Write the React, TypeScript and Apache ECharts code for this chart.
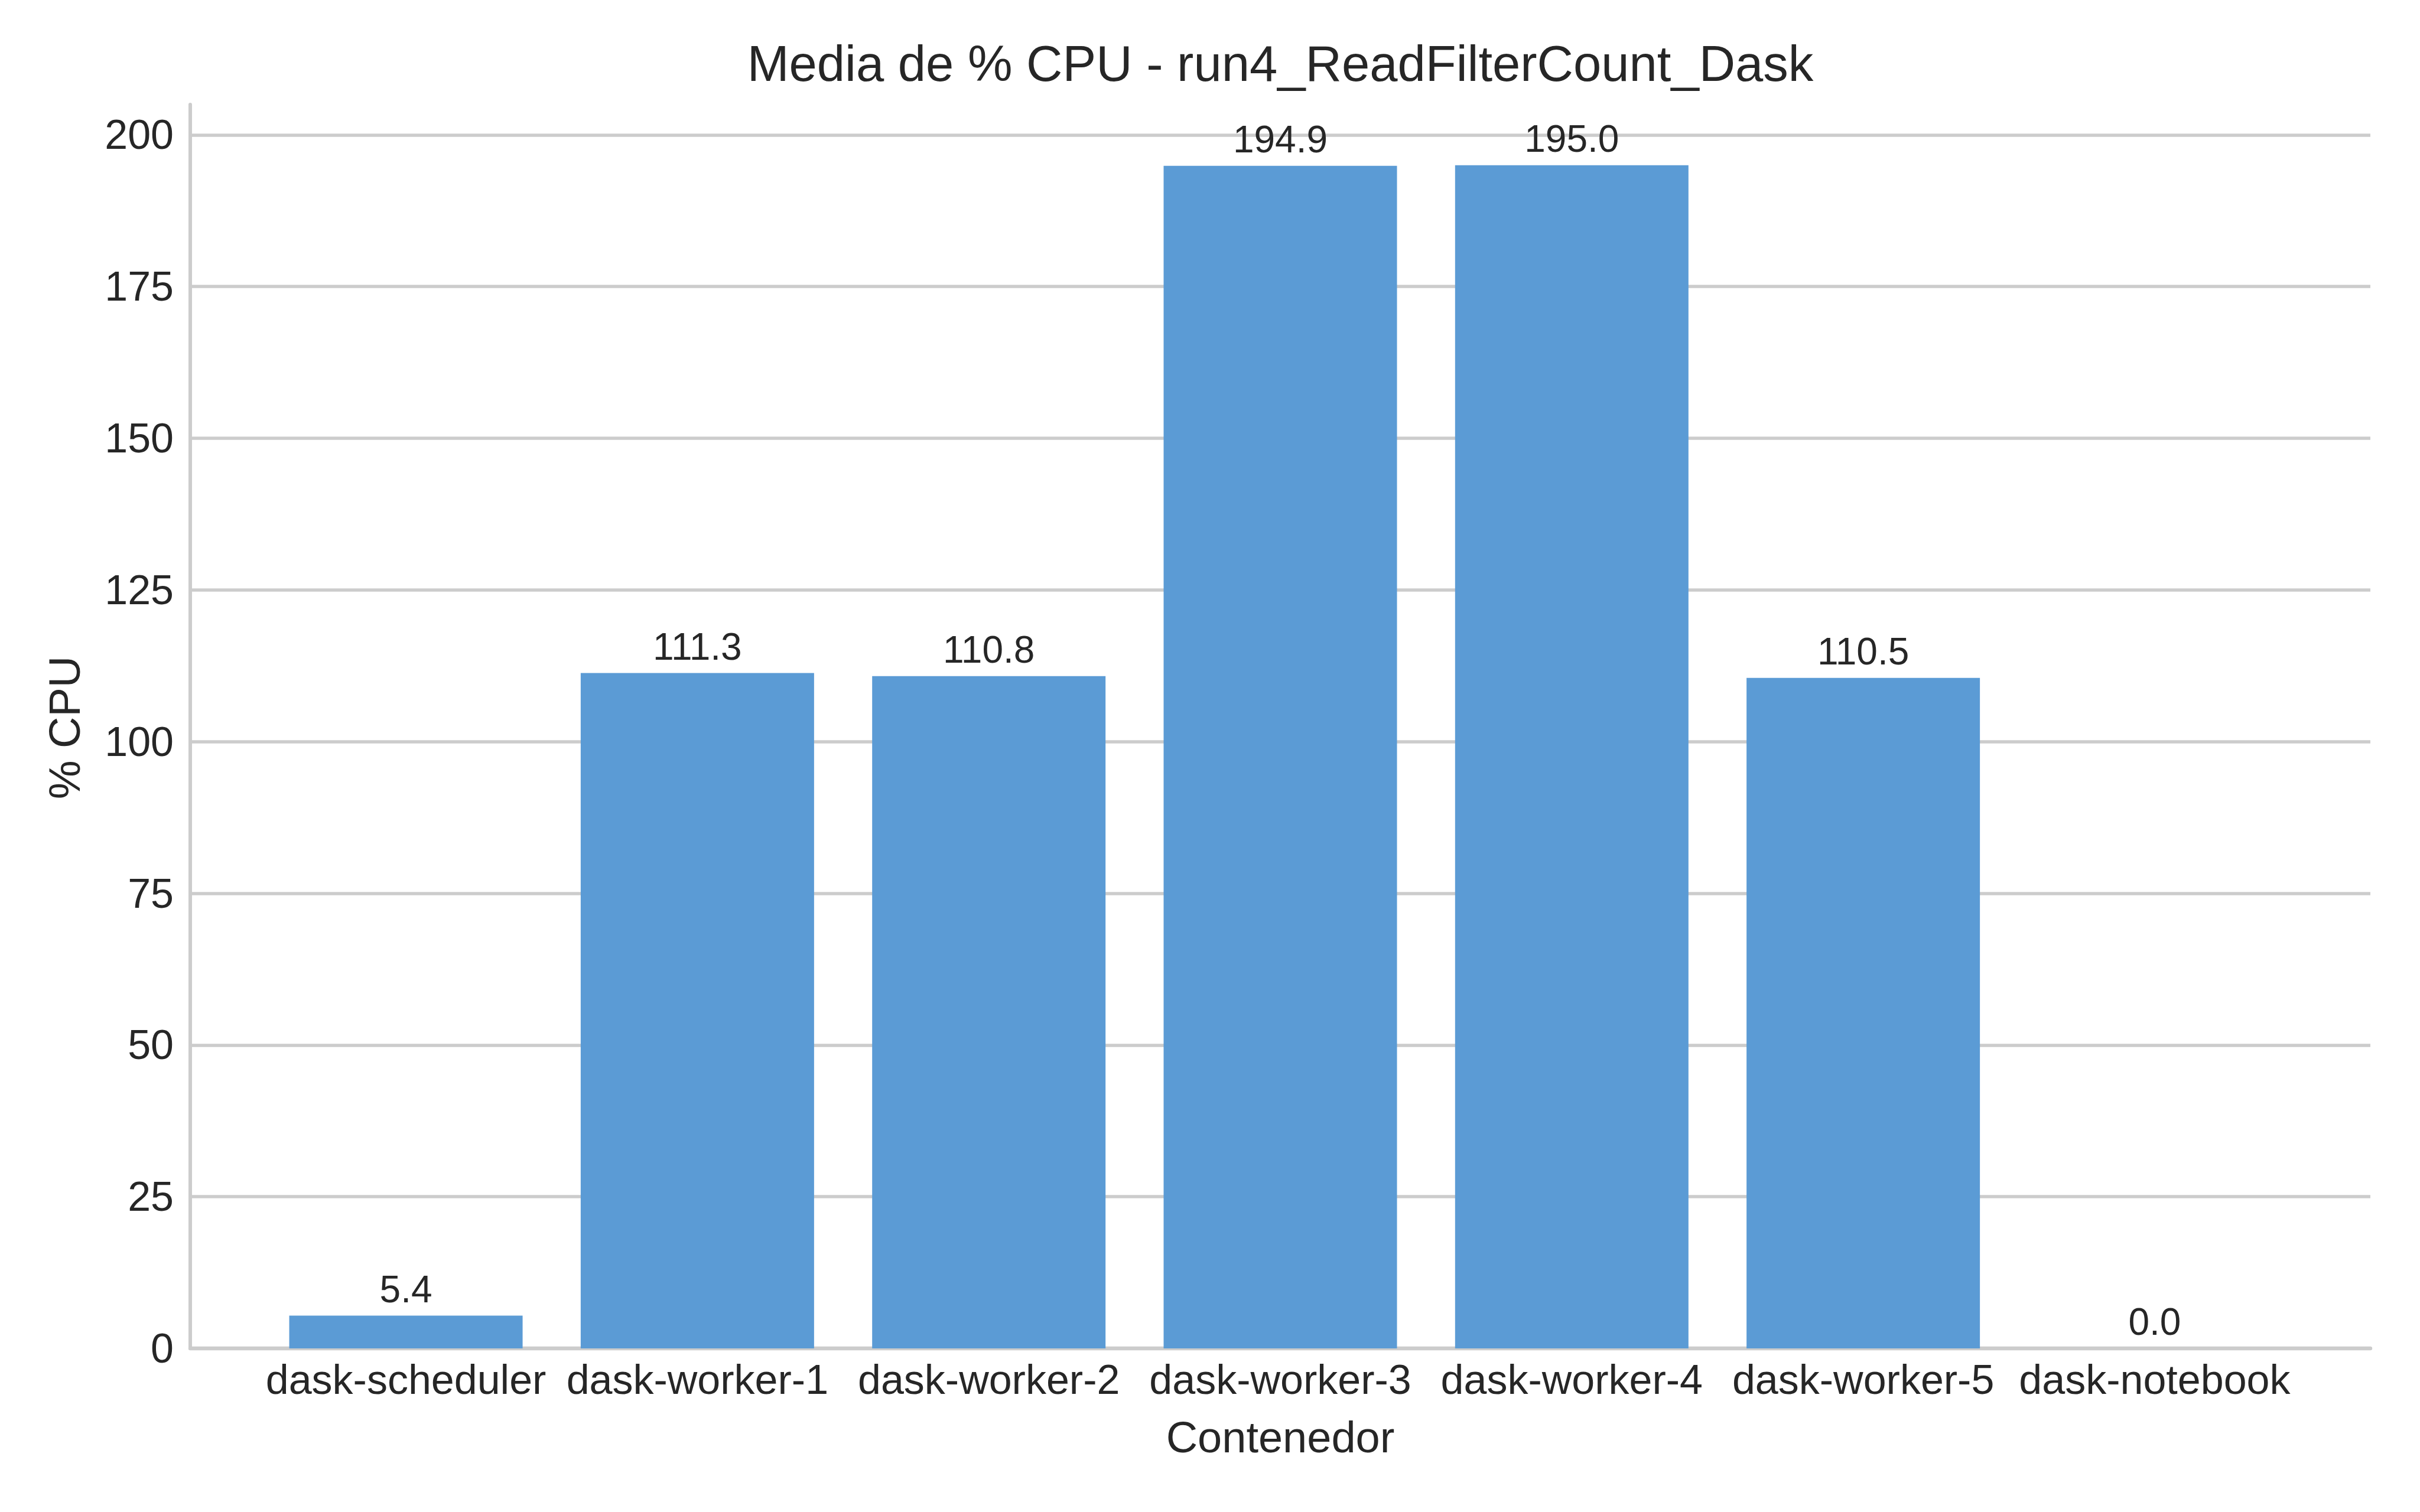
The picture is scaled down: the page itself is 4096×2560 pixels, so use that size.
import React, { useEffect, useRef } from "react";
import * as echarts from "echarts";

const categories = [
  "dask-scheduler",
  "dask-worker-1",
  "dask-worker-2",
  "dask-worker-3",
  "dask-worker-4",
  "dask-worker-5",
  "dask-notebook",
];
const cpuValues = [5.4, 111.3, 110.8, 194.9, 195.0, 110.5, 0.0];
const yTickStep = 25;
const yMax = 205;
const titleText = "Media de % CPU - run4_ReadFilterCount_Dask";
const yLabelText = "% CPU";
const xLabelText = "Contenedor";

const FONT = "Liberation Sans";
const TXT = "#262626";
const GRID = "#cccccc";
const BAR = "#5B9BD5";

export default function App() {
  const ref = useRef<HTMLDivElement>(null);
  useEffect(() => {
    if (!ref.current) return;
    const chart = echarts.init(ref.current, undefined, { renderer: "svg" });
    const idx = categories.map((_, i) => i);
    chart.setOption({
      animation: false,
      backgroundColor: "#ffffff",
      textStyle: { fontFamily: FONT },
      grid: { left: 322, right: 84, top: 177, bottom: 277, containLabel: false },
      graphic: [
        {
          type: "text",
          x: 2167,
          y: 107,
          style: {
            text: titleText,
            font: `85px '${FONT}'`,
            fill: TXT,
            align: "center",
            verticalAlign: "middle",
          },
        },
        {
          type: "text",
          x: 109,
          y: 1232,
          rotation: Math.PI / 2,
          style: {
            text: yLabelText,
            font: `74px '${FONT}'`,
            fill: TXT,
            align: "center",
            verticalAlign: "middle",
          },
        },
        {
          type: "text",
          x: 2167,
          y: 2433,
          style: {
            text: xLabelText,
            font: `74px '${FONT}'`,
            fill: TXT,
            align: "center",
            verticalAlign: "middle",
          },
        },
      ],
      xAxis: {
        type: "value",
        min: -0.74,
        max: 6.74,
        splitLine: { show: false },
        axisTick: { show: false },
        axisLine: { show: true, onZero: false, lineStyle: { color: GRID, width: 6.4 } },
        axisLabel: {
          customValues: idx,
          formatter: (v: number) => categories[Math.round(v)] ?? "",
          fontSize: 70,
          fontFamily: FONT,
          color: TXT,
          margin: 18,
        },
      },
      yAxis: {
        type: "value",
        min: 0,
        max: yMax,
        interval: yTickStep,
        axisTick: { show: false },
        axisLine: { show: true, onZero: false, lineStyle: { color: GRID, width: 6 } },
        splitLine: {
          show: true,
          showMaxLine: false,
          lineStyle: { color: GRID, width: 5.5 },
        },
        axisLabel: {
          showMaxLabel: false,
          formatter: (v: number) => (v > 200 ? "" : String(v)),
          fontSize: 70,
          fontFamily: FONT,
          color: TXT,
          margin: 28,
        },
      },
      series: [
        {
          type: "bar",
          data: cpuValues.map((v, i) => [i, v]),
          barWidth: 395,
          itemStyle: { color: BAR },
          label: {
            show: true,
            position: "top",
            distance: 13,
            formatter: (p: any) => Number(p.value[1]).toFixed(1),
            fontSize: 64,
            fontFamily: FONT,
            color: TXT,
          },
        },
      ],
    });
    return () => chart.dispose();
  }, []);
  return (
    <div
      ref={ref}
      style={{ position: "absolute", left: 0, top: 0, width: 4096, height: 2560 }}
    />
  );
}
